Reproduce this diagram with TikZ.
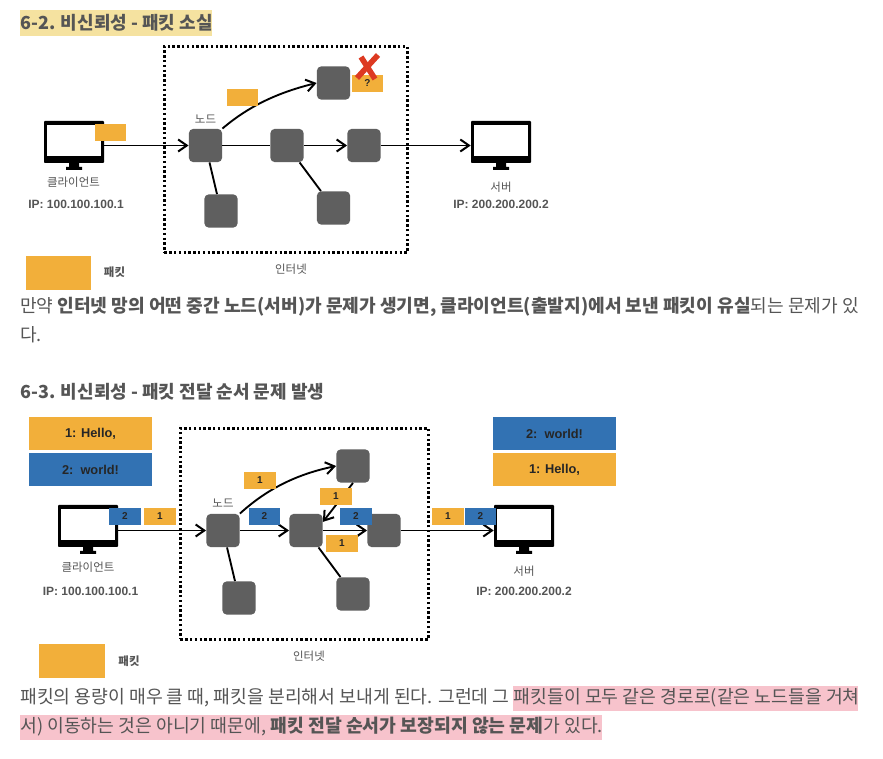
\documentclass[tikz,border=0pt]{standalone}
\usepackage{fontspec}
\setmainfont{Noto Sans CJK KR}
\newfontfamily\hel{Liberation Sans}
\usetikzlibrary{arrows.meta}
\definecolor{pk}{HTML}{F2AF3A}
\definecolor{bl}{HTML}{3272B3}
\definecolor{nd}{HTML}{5F5F5F}
\definecolor{txt}{HTML}{555555}
\definecolor{hy}{HTML}{F5E2A0}
\definecolor{hp}{HTML}{F7C3CC}
\definecolor{rx}{HTML}{DD3A22}
\tikzset{
 x=0.75pt,y=-0.75pt,
 netnode/.style={fill=nd,draw=none,rounded corners=3.4pt,minimum width=25pt,minimum height=25pt,inner sep=0pt},
 netbox/.style={draw=black,line width=2.1pt,dash pattern=on 1.8pt off 1.8pt},
 link/.style={line width=1.4pt,black},
 arr/.style={link,-{Straight Barb[length=6.5pt,width=9pt,line width=1.5pt]}},
 packet/.style={fill=pk,inner sep=0pt,minimum width=23.5pt,minimum height=12.7pt,font=\hel\bfseries\fontsize{7.5}{8}\selectfont,text=black!85},
 bpacket/.style={packet,fill=bl},
 msg/.style={inner sep=0pt,minimum width=92pt,minimum height=24.7pt,font=\hel\bfseries\fontsize{9.6}{10}\selectfont,text=black!85},
 legend/.style={fill=pk,inner sep=0pt,minimum width=49pt,minimum height=25.5pt},
 lab/.style={inner sep=0pt,text=txt,font=\fontsize{8.6}{9}\selectfont},
 iplab/.style={inner sep=0pt,text=txt,font=\hel\bfseries\fontsize{9}{9}\selectfont},
 head/.style={inner sep=0pt,anchor=west,text=txt,font=\bfseries\fontsize{13.5}{14}\selectfont},
 body/.style={inner sep=0pt,anchor=west,text=txt,font=\fontsize{13.58}{14}\selectfont},
 bodyb/.style={inner sep=0pt,anchor=west,text=txt,font=\fontsize{13.7}{14}\selectfont},
 screen/.style={fill=black,rounded corners=0.6pt,inner sep=0pt,minimum width=45pt,minimum height=31.5pt},
}
\newcommand{\monitor}[3]{% name, x, y of the monitor's centre
 \fill[black] (#2-5,#3+20) -- (#2+5,#3+20) -- (#2+5,#3+25) -- (#2+8,#3+25) -- (#2+8,#3+28) -- (#2-8,#3+28) -- (#2-8,#3+25) -- (#2-5,#3+25) -- cycle;
 \node[screen] (#1) at (#2,#3) {};
 \fill[white] (#2-27,#3-17) rectangle (#2+27,#3+14);
}
\begin{document}
\begin{tikzpicture}
\useasboundingbox (0,0) rectangle (883,759);
\fill[white] (0,0) rectangle (883,759);
% ---------- 6-2
\fill[hy] (20,10) rectangle (212,36);
\node[head] (t1) at (20,23) {6-2. 비신뢰성 - 패킷 소실};
\node[netbox,draw,minimum width=182.25pt,minimum height=154.5pt,inner sep=0pt,anchor=north west] (inet1) at (163,45) {};
\monitor{c1}{74}{142}
\monitor{s1}{501}{142}
\node[netnode] (a1) at (205.5,145.5) {};
\node[netnode] (t1n) at (333.5,83) {};
\node[netnode] (m1) at (287,145.5) {};
\node[netnode] (r1) at (364,145.5) {};
\node[netnode] (b1) at (221,211) {};
\node[netnode] (d1) at (333.5,208) {};
\draw[arr] (c1.east|-a1.west) -- (a1.west);
\draw[link] (a1) -- (m1);
\draw[arr] (m1) -- (r1);
\draw[arr] (r1) -- (s1.west|-r1.east);
\draw[link] (a1) -- (b1);
\draw[link] (m1) -- (d1);
\draw[arr] (a1.north east) .. controls (250,105) and (280,92) .. (t1n.west);
\node[packet] (p11) at (110.5,132.5) {};
\node[packet] (p12) at (242.5,97.5) {};
\node[packet] (p13) at (367.5,83.5) {?};
\draw[rx,line width=4.2pt] (357,78) -- (378,55);
\draw[rx,line width=4.2pt] (361,57) -- (375,79);
\node[lab] (n1) at (205.5,119) {노드};
\node[lab] (c1l) at (73.5,182) {클라이언트};
\node[iplab] (c1i) at (76,204) {IP: 100.100.100.1};
\node[lab] (s1l) at (501,187) {서버};
\node[iplab] (s1i) at (501,204) {IP: 200.200.200.2};
\node[lab] (i1l) at (291,269) {인터넷};
\node[legend] (l1) at (58.5,273) {};
\node[lab,font=\bfseries\fontsize{8.6}{9}\selectfont] (l1t) at (114.5,272) {패킷};
\node[body] (b11) at (20,307) {만약 \textbf{인터넷 망의 어떤 중간 노드(서버)가 문제가 생기면, 클라이언트(출발지)에서 보낸 패킷이 유실}되는 문제가 있};
\node[body] (b12) at (20,335) {다.};
% ---------- 6-3
\node[head] (t2) at (20,392) {6-3. 비신뢰성 - 패킷 전달 순서 문제 발생};
\node[msg,fill=pk] (h1) at (90.5,433.5) {1: Hello,};
\node[msg,fill=bl] (h2) at (90.5,469.5) {2:\ \ world!};
\node[msg,fill=bl] (h3) at (554.5,433.5) {2:\ \ world!};
\node[msg,fill=pk] (h4) at (554.5,469.5) {1: Hello,};
\node[netbox,draw,minimum width=186pt,minimum height=158.25pt,inner sep=0pt,anchor=north west] (inet2) at (179,427) {};
\monitor{c2}{88}{526}
\monitor{s2}{524}{526}
\node[netnode] (a2) at (223,530.5) {};
\node[netnode] (t2n) at (353,466) {};
\node[netnode] (m2) at (306,530.5) {};
\node[netnode] (r2) at (384,530.5) {};
\node[netnode] (b2) at (239,598) {};
\node[netnode] (d2) at (353,594) {};
\draw[arr] (c2.east|-a2.west) -- (a2.west);
\draw[arr] (a2) -- (m2);
\draw[arr] (m2) -- (r2);
\draw[arr] (r2) -- (s2.west|-r2.east);
\draw[link] (a2) -- (b2);
\draw[link] (m2) -- (d2);
\draw[arr] (a2.north east) .. controls (268,488) and (298,474) .. (t2n.west);
\draw[arr] (t2n.south) -- (m2.27);
\node[packet] (q1) at (260,480.5) {1};
\node[bpacket] (q2) at (264.5,516.5) {2};
\node[packet] (q3) at (336,496.5) {1};
\node[bpacket] (q4) at (356,516.5) {2};
\node[packet] (q5) at (342,543.5) {1};
\node[bpacket] (q6) at (125,516.5) {2};
\node[packet] (q7) at (160,516.5) {1};
\node[packet] (q8) at (448,516.5) {1};
\node[bpacket] (q9) at (480.5,516.5) {2};
\node[lab] (n2) at (223,503) {노드};
\node[lab] (c2l) at (88,567) {클라이언트};
\node[iplab] (c2i) at (90.5,591) {IP: 100.100.100.1};
\node[lab] (s2l) at (524,571) {서버};
\node[iplab] (s2i) at (524,591) {IP: 200.200.200.2};
\node[lab] (i2l) at (309,656) {인터넷};
\node[legend] (l2) at (72,661) {};
\node[lab,font=\bfseries\fontsize{8.6}{9}\selectfont] (l2t) at (129,661) {패킷};
\fill[hp] (513,686) rectangle (858,711);
\fill[hp] (20,715) rectangle (602,740);
\node[bodyb] (b21) at (20,698) {패킷의 용량이 매우 클 때, 패킷을 분리해서 보내게 된다. 그런데 그 패킷들이 모두 같은 경로로(같은 노드들을 거쳐};
\node[bodyb] (b22) at (20,727) {서) 이동하는 것은 아니기 때문에, \textbf{패킷 전달 순서가 보장되지 않는 문제}가 있다.};
\end{tikzpicture}
\end{document}
